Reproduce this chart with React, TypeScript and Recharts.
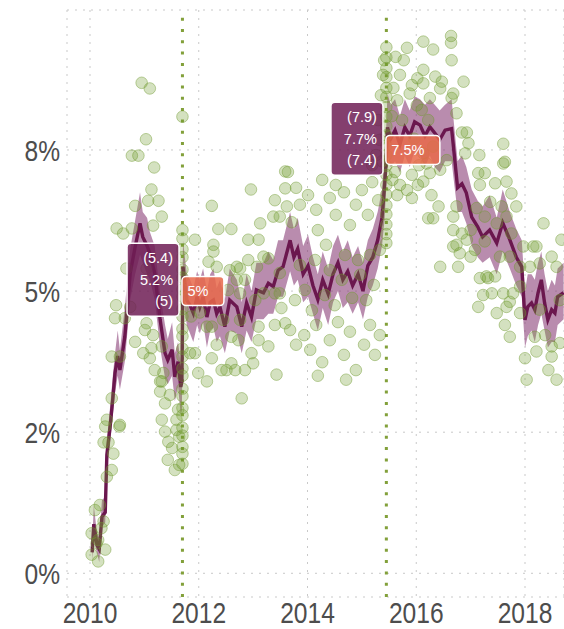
import React from 'react';
import {
  ComposedChart,
  Scatter,
  Line,
  Area,
  XAxis,
  YAxis,
  CartesianGrid,
  ReferenceLine,
  ReferenceDot,
} from 'recharts';

// Smoothed trend (percent) with its ribbon
const trendYears = [
  2010.04, 2010.07, 2010.13, 2010.17, 2010.22, 2010.28, 2010.31, 2010.37, 2010.42, 2010.46,
  2010.51, 2010.55, 2010.64, 2010.74, 2010.83, 2010.92, 2010.97, 2011.05, 2011.10, 2011.19,
  2011.29, 2011.38, 2011.43, 2011.51, 2011.56, 2011.62, 2011.67, 2011.69,
  2011.71, 2011.78, 2011.84, 2011.90, 2011.97, 2012.02, 2012.08, 2012.15, 2012.21, 2012.27,
  2012.33, 2012.39, 2012.48, 2012.57, 2012.70, 2012.79, 2012.88, 2012.97, 2013.06, 2013.19,
  2013.28, 2013.37, 2013.46, 2013.55, 2013.68, 2013.75, 2013.82, 2013.92, 2014.01, 2014.10,
  2014.19, 2014.28, 2014.38, 2014.47, 2014.56, 2014.65, 2014.74, 2014.83, 2014.93, 2015.02,
  2015.11, 2015.20, 2015.29, 2015.37, 2015.42, 2015.44,
  2015.47, 2015.53, 2015.61, 2015.70, 2015.79, 2015.88, 2015.97, 2016.07, 2016.16, 2016.25,
  2016.34, 2016.43, 2016.53, 2016.65, 2016.71, 2016.76, 2016.84, 2016.92, 2017.02, 2017.13,
  2017.22, 2017.35, 2017.48, 2017.59, 2017.72, 2017.84, 2017.94, 2018.00, 2018.05, 2018.12,
  2018.18, 2018.24, 2018.30, 2018.36, 2018.42, 2018.49, 2018.55, 2018.60, 2018.71,
];
const trendMid = [
  0.37, 0.87, 0.50, 0.43, 1.00, 1.08, 2.10, 2.60, 3.10, 3.55,
  3.85, 3.60, 4.19, 5.32, 5.78, 6.20, 5.96, 5.80, 5.67, 5.32,
  4.49, 3.90, 3.78, 3.96, 3.48, 3.75, 3.30, 3.40,
  5.43, 4.84, 4.75, 4.61, 4.90, 4.72, 4.90, 4.54, 4.80, 4.84,
  4.60, 4.72, 4.37, 4.84, 4.72, 4.37, 4.79, 4.54, 5.02, 4.97,
  5.14, 5.08, 5.37, 5.43, 5.90, 5.60, 5.75, 5.30, 5.45, 5.10,
  4.85, 5.20, 4.95, 5.30, 5.50, 5.20, 5.35, 5.10, 5.30, 5.00,
  5.45, 5.60, 5.90, 6.30, 6.90, 7.20,
  7.90, 7.70, 7.85, 7.60, 7.90, 7.75, 8.00, 7.94, 7.75, 7.91,
  7.80, 7.68, 7.85, 7.88, 7.31, 6.83, 6.90, 6.74, 6.31, 6.14,
  5.96, 6.08, 5.85, 6.21, 5.91, 5.60, 5.43, 4.49, 4.72, 4.79,
  4.67, 4.97, 5.20, 4.79, 4.49, 4.67, 4.61, 4.90, 4.97,
];
const trendLow = [
  0.22, 0.60, 0.35, 0.20, 0.82, 0.90, 1.85, 2.30, 2.80, 3.20,
  3.50, 3.25, 3.75, 4.85, 5.30, 5.65, 5.50, 5.30, 5.20, 4.85,
  4.00, 3.45, 3.35, 3.50, 3.05, 3.30, 2.80, 2.90,
  4.95, 4.40, 4.25, 4.10, 4.40, 4.25, 4.45, 4.00, 4.30, 4.35,
  4.10, 4.20, 3.90, 4.30, 4.25, 3.90, 4.30, 4.10, 4.50, 4.50,
  4.60, 4.60, 4.90, 4.90, 5.35, 5.10, 5.20, 4.80, 4.90, 4.60,
  4.30, 4.70, 4.40, 4.80, 5.00, 4.70, 4.80, 4.60, 4.80, 4.50,
  4.90, 5.10, 5.40, 5.80, 6.30, 6.70,
  7.40, 7.20, 7.30, 7.10, 7.40, 7.20, 7.50, 7.40, 7.20, 7.40,
  7.20, 7.10, 7.30, 7.30, 6.80, 6.40, 6.40, 6.20, 5.80, 5.60,
  5.50, 5.60, 5.30, 5.70, 5.40, 5.10, 4.90, 4.00, 4.20, 4.30,
  4.10, 4.40, 4.60, 4.30, 4.00, 4.10, 4.10, 4.40, 4.50,
];
const trendHigh = [
  0.55, 1.20, 0.70, 0.62, 1.30, 1.35, 2.35, 2.95, 3.50, 3.90,
  4.30, 3.95, 4.70, 5.75, 6.25, 6.75, 6.40, 6.30, 6.05, 5.80,
  4.95, 4.40, 4.15, 4.45, 3.90, 4.10, 3.70, 3.85,
  5.90, 5.30, 5.20, 5.05, 5.35, 5.20, 5.40, 5.00, 5.30, 5.40,
  5.05, 5.20, 4.85, 5.40, 5.20, 4.80, 5.30, 5.00, 5.50, 5.50,
  5.70, 5.55, 5.90, 5.90, 6.40, 6.10, 6.30, 5.80, 6.00, 5.60,
  5.30, 5.70, 5.40, 5.80, 6.00, 5.70, 5.90, 5.60, 5.80, 5.50,
  5.90, 6.10, 6.40, 6.80, 7.40, 7.70,
  8.50, 8.30, 8.40, 8.10, 8.40, 8.20, 8.45, 8.40, 8.30, 8.40,
  8.30, 8.20, 8.30, 8.40, 7.80, 7.30, 7.40, 7.20, 6.80, 6.60,
  6.50, 6.70, 6.30, 6.80, 6.40, 6.10, 5.90, 5.00, 5.30, 5.30,
  5.20, 5.50, 5.70, 5.30, 5.00, 5.20, 5.10, 5.40, 5.50,
];

// Raw observations [year, percent]
const points2010 = [
  [2010.40, 3.10], [2010.31, 2.72], [2010.28, 2.60], [2010.54, 2.60], [2010.25, 2.32],
  [2010.34, 2.32], [2010.43, 2.12], [2010.40, 1.83], [2010.31, 1.71], [2010.09, 1.12],
  [2010.18, 1.21], [2010.25, 0.92], [2010.21, 0.80], [2010.03, 0.71], [2010.15, 0.59],
  [2010.28, 0.42], [2010.03, 0.33], [2010.15, 0.21], [2010.12, 0.53], [2010.46, 4.52],
  [2010.55, 3.84], [2010.40, 3.84], [2010.55, 2.63], [2010.49, 6.11], [2010.61, 6.02],
  [2010.48, 4.75], [2010.64, 4.52], [2010.67, 5.40], [2010.74, 4.72],
];
const points2011 = [
  [2010.95, 8.69], [2011.10, 8.59], [2011.03, 7.69], [2010.77, 7.40], [2010.89, 7.40],
  [2011.18, 7.19], [2011.13, 6.80], [2010.83, 6.51], [2011.07, 6.60], [2011.26, 6.60],
  [2011.32, 6.32], [2010.77, 6.11], [2011.16, 6.16], [2011.04, 5.40], [2011.01, 4.31],
  [2011.04, 4.43], [2011.16, 4.22], [2010.83, 4.10], [2011.13, 3.99], [2010.98, 3.90],
  [2011.10, 3.81], [2011.32, 4.02], [2011.19, 3.60], [2011.35, 3.55], [2011.32, 3.40],
  [2011.29, 3.22], [2011.47, 3.16], [2011.38, 3.01], [2011.32, 2.72], [2011.59, 2.72],
  [2011.44, 2.33], [2011.59, 2.54], [2011.64, 2.42], [2011.64, 1.92], [2011.62, 2.90],
  [2011.29, 3.40], [2011.51, 2.22], [2011.43, 2.01], [2011.56, 1.83], [2011.38, 2.51],
];
const pointsEvent1 = [
  8.09, 6.08, 5.93, 5.74, 5.60, 5.38, 5.24, 5.03, 4.90, 4.68, 4.55, 4.33, 4.20, 3.98,
  3.84, 3.63, 3.50, 3.27, 3.14, 2.93, 2.80, 2.58, 2.44, 2.24, 2.12, 1.94,
];
const points2012 = [
  [2011.93, 5.91], [2012.36, 6.10], [2012.60, 6.10], [2012.91, 5.91], [2013.10, 5.91],
  [2013.13, 6.20], [2013.37, 6.32], [2013.49, 6.32], [2012.27, 5.82], [2012.27, 5.70],
  [2012.18, 5.52], [2012.91, 5.55], [2013.19, 5.61], [2013.28, 5.58], [2012.57, 5.37],
  [2012.76, 5.40], [2013.07, 5.43], [2013.49, 5.32], [2012.70, 5.20], [2012.85, 5.20],
  [2013.49, 4.96], [2012.24, 6.51], [2013.40, 6.61], [2013.62, 6.50], [2013.59, 7.12],
  [2012.96, 6.80], [2013.59, 6.82], [2011.93, 3.90], [2011.84, 3.90], [2011.99, 3.55],
  [2012.15, 3.40], [2012.24, 3.81], [2012.42, 3.60], [2012.51, 3.60], [2012.60, 3.72],
  [2012.67, 3.60], [2012.85, 3.60], [2013.00, 3.72], [2012.97, 3.90], [2012.79, 3.10],
  [2013.43, 3.52], [2012.24, 4.37], [2012.15, 4.37], [2012.33, 4.05], [2012.45, 4.49],
  [2012.76, 4.49], [2013.10, 4.37], [2013.28, 4.02], [2013.59, 4.43], [2013.52, 4.70],
  [2013.40, 4.40], [2013.10, 4.13], [2012.73, 4.13], [2012.60, 4.19], [2013.40, 4.96],
  [2013.19, 4.96], [2013.04, 4.84], [2012.76, 4.96], [2012.54, 5.02], [2012.70, 5.43],
  [2012.33, 5.43], [2011.86, 4.55], [2012.02, 4.62],
];
const points2014 = [
  [2013.64, 7.11], [2013.79, 6.83], [2013.86, 6.53], [2013.71, 6.22], [2014.01, 6.70],
  [2014.16, 6.44], [2014.19, 6.08], [2014.34, 5.82], [2014.41, 6.65], [2014.52, 6.35],
  [2014.67, 6.75], [2014.78, 6.17], [2014.89, 6.53], [2015.00, 6.79], [2015.11, 6.35],
  [2015.19, 6.93], [2015.30, 6.61], [2014.52, 6.88], [2014.27, 6.97],
  [2015.30, 8.03], [2015.35, 8.47], [2015.39, 8.83], [2015.41, 9.09], [2015.33, 7.68],
  [2015.26, 7.41], [2015.19, 7.23], [2015.37, 7.30],
  [2013.68, 4.31], [2013.79, 4.05], [2013.94, 4.22], [2014.05, 3.96], [2014.16, 4.40],
  [2014.27, 3.74], [2014.41, 4.13], [2014.56, 4.45], [2014.67, 3.87], [2014.78, 4.28],
  [2014.89, 3.60], [2015.04, 4.05], [2015.15, 4.40], [2015.24, 3.87], [2015.33, 4.22],
  [2014.71, 3.43], [2014.19, 3.50],
  [2013.77, 4.84], [2013.95, 5.02], [2014.08, 4.66], [2014.32, 4.93], [2014.50, 4.75],
  [2014.63, 5.20], [2014.82, 4.88], [2014.97, 5.29], [2015.08, 4.84], [2015.22, 5.11],
  [2013.86, 5.46], [2014.14, 5.55], [2014.41, 5.37], [2014.69, 5.64], [2014.93, 5.55],
  [2015.15, 5.64], [2015.33, 5.73],
];
const pointsEvent2 = [
  9.32, 9.14, 8.95, 8.79, 8.60, 8.44, 8.26, 8.09, 7.92, 7.76, 7.58, 7.41, 7.22, 7.06,
  6.88, 6.71, 6.52, 6.36, 6.18, 6.01, 5.85,
];
const points2016 = [
  [2015.83, 9.31], [2015.70, 8.83], [2015.92, 8.65], [2015.65, 8.38], [2015.74, 8.03],
  [2016.01, 8.29], [2015.92, 7.06], [2015.83, 6.79], [2015.65, 6.70], [2016.05, 7.23],
  [2015.56, 6.97], [2015.77, 9.09], [2016.02, 8.77], [2015.58, 8.60], [2015.96, 7.70],
  [2015.70, 6.88], [2015.92, 6.65], [2015.61, 7.11], [2016.03, 6.88], [2015.55, 8.10],
  [2015.88, 8.50], [2015.62, 9.15],
  [2016.64, 9.52], [2016.64, 9.40], [2016.31, 9.28], [2016.65, 9.09], [2016.13, 9.42],
  [2016.13, 8.92], [2016.35, 8.80], [2016.47, 8.71], [2016.87, 8.71], [2016.13, 8.68],
  [2016.44, 8.59], [2016.68, 8.50], [2016.65, 8.42], [2016.25, 8.42], [2016.74, 8.15],
  [2016.84, 7.81], [2016.93, 7.81], [2016.96, 7.62], [2016.90, 7.44], [2016.13, 6.94],
  [2016.25, 7.09], [2016.28, 6.70], [2016.41, 6.50], [2016.22, 6.29], [2016.31, 6.29],
  [2016.68, 6.32], [2016.74, 6.50], [2016.68, 6.08], [2016.74, 5.82], [2016.68, 5.79],
  [2016.44, 5.43], [2016.77, 5.43], [2016.80, 5.67], [2016.84, 6.02], [2016.10, 8.21],
  [2016.22, 8.03], [2016.13, 7.44], [2016.19, 7.26], [2016.31, 7.56], [2016.56, 7.32],
  [2016.44, 7.15],
];
const points2017 = [
  [2017.16, 7.41], [2017.60, 7.61], [2017.63, 7.29], [2016.93, 5.91], [2017.00, 6.08],
  [2017.08, 5.73], [2017.00, 5.61], [2017.17, 5.23], [2017.23, 4.93], [2017.14, 4.72],
  [2017.32, 5.23], [2017.48, 4.61], [2017.63, 4.40], [2017.72, 4.19], [2017.72, 4.81],
  [2017.91, 4.61], [2018.00, 3.81], [2018.03, 3.43], [2018.21, 3.93], [2018.43, 3.60],
  [2018.58, 3.43], [2018.49, 3.84], [2018.64, 4.08], [2018.67, 5.91], [2018.34, 6.20],
  [2018.21, 5.79], [2018.27, 5.49], [2018.49, 5.61], [2018.15, 5.79], [2017.91, 5.43],
  [2017.75, 6.02], [2017.84, 6.50], [2017.75, 6.73], [2017.66, 6.94], [2017.45, 6.91],
  [2017.26, 7.09], [2017.14, 7.09], [2017.17, 6.88], [2017.60, 7.26], [2017.36, 6.58],
  [2017.57, 6.50], [2017.48, 6.20], [2017.66, 6.32], [2017.26, 6.32], [2017.11, 6.47],
  [2017.26, 5.88], [2017.54, 5.61], [2017.72, 5.61], [2017.97, 5.79], [2018.09, 5.43],
  [2018.58, 5.43], [2018.64, 4.84], [2018.27, 4.67], [2018.18, 4.19], [2018.37, 4.22],
  [2018.49, 4.02], [2017.29, 5.26], [2017.39, 4.96], [2017.45, 5.26], [2017.60, 4.96],
  [2017.66, 4.72], [2017.78, 4.96], [2017.91, 5.08],
];

// Breaks: date, mean before (with interval), mean after
const eventYears = [2011.70, 2015.45];
const beforeMean = [5.2, 7.7];
const beforeHigh = [5.4, 7.9];
const beforeLow = [5.0, 7.4];
const afterMean = [5.0, 7.5];

const xTicks = [2010, 2012, 2014, 2016, 2018];
const yTicks = [0, 2.5, 5, 7.5];

const GREEN = '#6f9a2e';
const EVENT_GREEN = '#82a03a';
const PLUM = '#6b174e';
const LABEL_FONT = "'Liberation Sans', Arial, sans-serif";

const trendData = trendYears.map((x, i) => ({
  x,
  mid: trendMid[i],
  band: [trendLow[i], trendHigh[i]],
}));

const scatterData = [
  ...points2010,
  ...points2011,
  ...pointsEvent1.map(v => [eventYears[0], v]),
  ...points2012,
  ...points2014,
  ...pointsEvent2.map(v => [eventYears[1], v]),
  ...points2016,
  ...points2017,
].map(([x, y]) => ({ x, y }));

// R style rounding (half to even) for the percent ticks
const fmtTick = (v: number) => {
  const f = Math.floor(v);
  const r = v - f === 0.5 ? (f % 2 === 0 ? f : f + 1) : Math.round(v);
  return `${r}%`;
};
const fmtNum = (v: number) => String(Number(v.toFixed(1)));

const CHAR_W: Record<string, number> = { '.': 4.0, '%': 12.9 };
const textWidth = (s: string) =>
  s.split('').reduce((w, c) => w + (CHAR_W[c] ?? 8.06), 0);

// narrow axis text: Liberation Sans squeezed horizontally
const NarrowTick = ({ x, y, payload, anchor, dy, fmt }: any) => {
  const label = fmt ? fmt(payload.value) : String(payload.value);
  return (
    <text
      x={0}
      y={0}
      dy={dy}
      transform={`translate(${x},${y}) scale(0.82,1)`}
      textAnchor={anchor}
      fontFamily={LABEL_FONT}
      fontSize={30}
      fill="#4d4d4d"
    >
      {label}
    </text>
  );
};

const PointShape = (props: any) => (
  <circle
    cx={props.cx}
    cy={props.cy}
    r={5.8}
    fill={GREEN}
    fillOpacity={0.3}
    stroke={GREEN}
    strokeOpacity={0.45}
    strokeWidth={1}
  />
);

const beforeBox = (i: number) => (props: any) => {
  const { cx, cy } = props;
  const w = 52;
  const h = 73;
  const right = cx - 3.4;
  const tx = right - 6;
  return (
    <g>
      <rect x={right - w} y={cy - h / 2} width={w} height={h} rx={4}
        fill="#6e1d55" fillOpacity={0.85} stroke="#fff" strokeWidth={1.5} />
      <text fontFamily={LABEL_FONT} fontSize={14.5} fill="#fff" textAnchor="end">
        <tspan x={tx} y={cy - 21.5} dominantBaseline="central">({fmtNum(beforeHigh[i])})</tspan>
        <tspan x={tx} y={cy} dominantBaseline="central">{fmtNum(beforeMean[i])}%</tspan>
        <tspan x={tx} y={cy + 21.5} dominantBaseline="central">({fmtNum(beforeLow[i])})</tspan>
      </text>
    </g>
  );
};

const afterBox = (i: number) => (props: any) => {
  const { cx, cy } = props;
  const label = `${fmtNum(afterMean[i])}%`;
  const w = textWidth(label) + 21;
  const h = 29;
  const left = cx - 0.5;
  return (
    <g>
      <rect x={left} y={cy - h / 2} width={w} height={h} rx={4}
        fill="#e8694a" fillOpacity={0.85} stroke="#fff" strokeWidth={1.5} />
      <text x={left + 5.5} y={cy} dominantBaseline="central"
        fontFamily={LABEL_FONT} fontSize={14.5} fill="#fff">
        {label}
      </text>
    </g>
  );
};

export default function App() {
  return (
    <div style={{ position: 'absolute', left: 0, top: 0, width: 564, height: 629, background: '#fff' }}>
      <ComposedChart
        width={564}
        height={629}
        data={trendData}
        margin={{ top: 10, right: 0, bottom: 0, left: 0 }}
      >
        <CartesianGrid stroke="#c9c9c9" strokeDasharray="2 6" />
        <XAxis
          dataKey="x"
          type="number"
          domain={[2009.577, 2018.717]}
          allowDataOverflow
          ticks={xTicks}
          interval={0}
          axisLine={false}
          tickLine={false}
          tickSize={0}
          tickMargin={5}
          height={32}
          tick={<NarrowTick anchor="middle" dy="0.71em" />}
        />
        <YAxis
          type="number"
          domain={[-0.42, 9.98]}
          allowDataOverflow
          ticks={yTicks}
          interval={0}
          axisLine={false}
          tickLine={false}
          tickSize={0}
          tickMargin={7}
          width={67}
          tick={<NarrowTick anchor="end" dy="0.355em" fmt={fmtTick} />}
        />
        <Scatter data={scatterData} dataKey="y" shape={PointShape} isAnimationActive={false} />
        {eventYears.map(x => (
          <ReferenceLine key={`ev${x}`} x={x} stroke={EVENT_GREEN} strokeWidth={3} strokeDasharray="3 8.3" />
        ))}
        <Area
          type="linear"
          dataKey="band"
          stroke="none"
          fill="#8a3f78"
          fillOpacity={0.6}
          isAnimationActive={false}
          activeDot={false}
        />
        <Line
          type="linear"
          dataKey="mid"
          stroke={PLUM}
          strokeWidth={3.4}
          dot={false}
          activeDot={false}
          isAnimationActive={false}
        />
        {eventYears.map((x, i) => (
          <ReferenceDot key={`b${x}`} x={x} y={beforeMean[i]} r={0} shape={beforeBox(i)} />
        ))}
        {eventYears.map((x, i) => (
          <ReferenceDot key={`a${x}`} x={x} y={afterMean[i]} r={0} shape={afterBox(i)} />
        ))}
      </ComposedChart>
    </div>
  );
}
